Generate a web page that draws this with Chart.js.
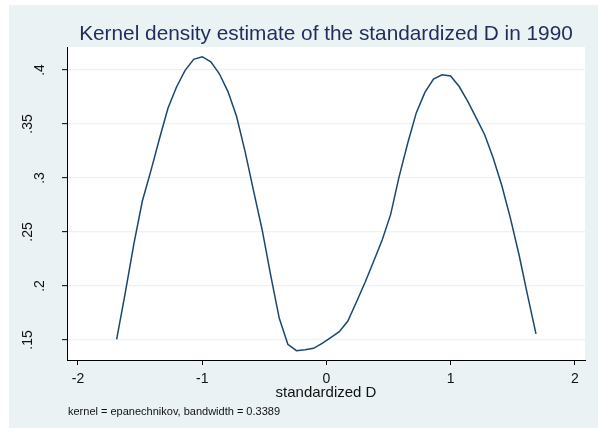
<!DOCTYPE html>
<html>
<head>
<meta charset="utf-8">
<script src="https://cdn.jsdelivr.net/npm/chart.js@4"></script>
<style>
  html, body { margin: 0; padding: 0; background: #fff; }
  #wrap { width: 598px; height: 432px; }
</style>
</head>
<body>
<div id="wrap"><canvas id="kdeChart" width="598" height="432"></canvas></div>
<script>
// 图中读出的数据 (50 个估计点)
const densityX = [-1.689, -1.620, -1.551, -1.482, -1.413, -1.345, -1.276, -1.207, -1.138, -1.069,
  -1.000, -0.931, -0.862, -0.793, -0.724, -0.655, -0.586, -0.518, -0.449, -0.380,
  -0.311, -0.242, -0.173, -0.104, -0.035, 0.034, 0.103, 0.172, 0.241, 0.310,
  0.379, 0.448, 0.516, 0.585, 0.654, 0.723, 0.792, 0.861, 0.930, 0.999,
  1.068, 1.137, 1.206, 1.274, 1.343, 1.412, 1.481, 1.550, 1.619, 1.686];
const densityY = [0.1506, 0.1935, 0.2386, 0.2787, 0.3068, 0.3361, 0.3645, 0.3843, 0.3997, 0.4099,
  0.4123, 0.4075, 0.3965, 0.3800, 0.3571, 0.3244, 0.2877, 0.2521, 0.2099, 0.1701,
  0.1460, 0.1401, 0.1410, 0.1423, 0.1469, 0.1523, 0.1577, 0.1676, 0.1852, 0.2032,
  0.2227, 0.2426, 0.2661, 0.3015, 0.3324, 0.3605, 0.3792, 0.3915, 0.3956, 0.3944,
  0.3847, 0.3709, 0.3554, 0.3398, 0.3180, 0.2926, 0.2624, 0.2287, 0.1911, 0.1556];

const xTicks = [-2, -1, 0, 1, 2];
const yTicks = [0.15, 0.2, 0.25, 0.3, 0.35, 0.4];
const yTickLabels = ['.15', '.2', '.25', '.3', '.35', '.4'];

const titleText = 'Kernel density estimate of the standardized D in 1990';
const xTitleText = 'standardized D';
const noteText = 'kernel = epanechnikov, bandwidth = 0.3389';

const FONT = '"Liberation Sans", Arial, Helvetica, sans-serif';
const BG = '#EAF2F3';

// 背景和文字
const stataLook = {
  id: 'stataLook',
  beforeDraw(chart) {
    const { ctx, chartArea: a } = chart;
    ctx.save();
    ctx.fillStyle = '#ffffff';
    ctx.fillRect(0, 0, chart.width, chart.height);
    ctx.fillStyle = BG;
    ctx.fillRect(9, 5, chart.width - 9, 423);
    ctx.fillStyle = '#ffffff';
    ctx.fillRect(a.left, a.top, a.right - a.left, a.bottom - a.top);
    ctx.restore();
  },
  afterDraw(chart) {
    const { ctx, chartArea: a } = chart;
    const yScale = chart.scales.y;
    const mid = (a.left + a.right) / 2;
    ctx.save();
    ctx.textBaseline = 'alphabetic';

    ctx.fillStyle = '#1E2D5A';
    ctx.font = '20.8px ' + FONT;
    ctx.textAlign = 'center';
    ctx.fillText(titleText, mid, 39.5);

    ctx.fillStyle = '#111111';
    ctx.font = '15px ' + FONT;
    ctx.fillText(xTitleText, mid, 397);

    ctx.font = '11px ' + FONT;
    ctx.textAlign = 'left';
    ctx.fillText(noteText, 68, 415);

    // 竖排的 y 轴标签
    ctx.font = '14px ' + FONT;
    ctx.textAlign = 'center';
    const w0 = Math.min(...yTickLabels.map(t => ctx.measureText(t).width));
    yTicks.forEach((v, i) => {
      const label = yTickLabels[i];
      const w = ctx.measureText(label).width;
      const py = yScale.getPixelForValue(v);
      const bx = 44 - 1.6 * (w - w0);
      ctx.save();
      ctx.translate(bx, py);
      ctx.rotate(-Math.PI / 2);
      ctx.fillText(label, 0, 0);
      ctx.restore();
    });
    ctx.restore();
  }
};

const ctx = document.getElementById('kdeChart').getContext('2d');
new Chart(ctx, {
  type: 'scatter',
  data: {
    datasets: [{
      label: 'density',
      data: densityX.map((x, i) => ({ x: x, y: densityY[i] })),
      showLine: true,
      borderColor: '#1A476F',
      borderWidth: 1.5,
      pointRadius: 0,
      tension: 0,
      fill: false
    }]
  },
  options: {
    responsive: false,
    animation: false,
    layout: { padding: { left: 0, right: 13, top: 47, bottom: 0 } },
    plugins: {
      legend: { display: false },
      title: { display: false },
      tooltip: { enabled: false }
    },
    scales: {
      x: {
        type: 'linear',
        min: -2.0885,
        max: 2.0805,
        afterBuildTicks: s => { s.ticks = xTicks.map(v => ({ value: v })); },
        afterFit: s => { s.height = 72; },
        ticks: {
          padding: 6,
          color: '#111111',
          font: { family: FONT, size: 14 },
          maxRotation: 0,
          callback: v => String(v)
        },
        grid: {
          drawOnChartArea: false,
          drawTicks: true,
          tickLength: 5,
          tickColor: '#000000',
          tickWidth: 1
        },
        border: { display: true, color: '#000000', width: 1 }
      },
      y: {
        type: 'linear',
        min: 0.13148,
        max: 0.4213,
        afterBuildTicks: s => { s.ticks = yTicks.map(v => ({ value: v })); },
        afterFit: s => { s.width = 67; },
        ticks: { display: false },
        grid: {
          color: BG,
          lineWidth: 1.3,
          drawTicks: true,
          tickLength: 5,
          tickColor: '#000000',
          tickWidth: 1
        },
        border: { display: true, color: '#000000', width: 1 }
      }
    }
  },
  plugins: [stataLook]
});
</script>
</body>
</html>
